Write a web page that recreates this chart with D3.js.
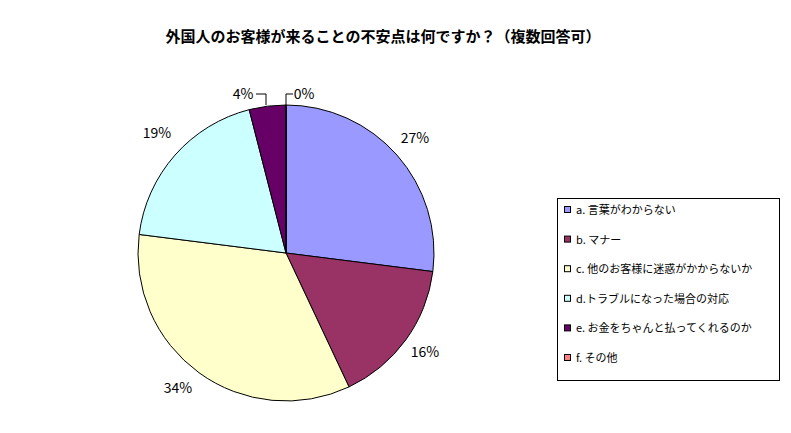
<!DOCTYPE html><html><head><meta charset="utf-8"><script src="https://cdn.jsdelivr.net/npm/d3@7"></script>
<style>body{margin:0;background:#fff}text{font-family:"Noto Sans CJK JP",sans-serif}</style></head><body>
<svg id="c" width="791" height="433"></svg>
<script>
const categories=["a. 言葉がわからない","b. マナー","c. 他のお客様に迷惑がかからないか","d.トラブルになった場合の対応","e. お金をちゃんと払ってくれるのか","f. その他"];
const values=[27,16,34,19,4,0];
const colors=["#9999FF","#993366","#FFFFCC","#CCFFFF","#660066","#FF8080"];
const svg=d3.select("#c");
svg.append("text").attr("x",383).attr("y",42).attr("text-anchor","middle").attr("font-size",15).attr("font-weight","bold").text("外国人のお客様が来ることの不安点は何ですか？（複数回答可）");
const cx=286,cy=253,r=148;
const pie=d3.pie().sort(null).value(d=>d);
const arcs=pie(values);
const arc=d3.arc().innerRadius(0).outerRadius(r);
const g=svg.append("g").attr("transform",`translate(${cx},${cy})`);
g.selectAll("path").data(arcs).join("path").attr("d",arc).attr("fill",(d,i)=>colors[i]).attr("stroke","#000").attr("stroke-width",1);
const lab=[[415,143,"middle"],[425,357,"middle"],[178,393,"middle"],[157,138,"middle"],[243,99,"middle"],[304,99,"middle"]];
arcs.forEach((a,i)=>{svg.append("text").attr("x",lab[i][0]).attr("y",lab[i][1]).attr("text-anchor",lab[i][2]).attr("font-size",14).attr("font-family","Liberation Sans, Arial").text(values[i]+"%");});
svg.append("path").attr("d","M256,94H266V105").attr("fill","none").attr("stroke","#000");
svg.append("path").attr("d","M286,105V94H293").attr("fill","none").attr("stroke","#000");
const lg=svg.append("g");
lg.append("rect").attr("x",557.5).attr("y",198.5).attr("width",222).attr("height",182).attr("fill","#fff").attr("stroke","#000");
const ly=d3.scalePoint().domain(categories).range([210,358]);
categories.forEach((c,i)=>{const y=ly(c);
lg.append("rect").attr("x",564.5).attr("y",y-3.5).attr("width",6).attr("height",6).attr("fill",colors[i]).attr("stroke","#000");
lg.append("text").attr("x",576).attr("y",y+4).attr("font-size",11).text(c);});
</script></body></html>
